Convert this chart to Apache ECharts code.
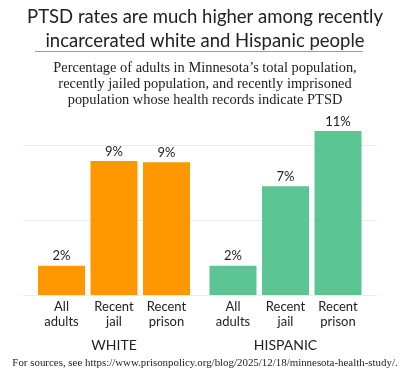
<!DOCTYPE html>
<html>
<head>
<meta charset="utf-8">
<script src="https://cdn.jsdelivr.net/npm/echarts@6/dist/echarts.min.js"></script>
<style>html,body{margin:0;padding:0;background:#fff}#c{width:400px;height:380px}</style>
</head>
<body>
<div id="c"></div>
<script>
const categories = ['All\nadults', 'Recent\njail', 'Recent\nprison'];
const whiteValues = [1.95, 8.93, 8.85];
const hispanicValues = [1.95, 7.25, 10.93];
const groupNames = ['WHITE', 'HISPANIC'];
const gridTicks = [0, 5, 10];

const sans = 'Lato, "Noto Sans", sans-serif';
const serif = '"Liberation Serif", "DejaVu Serif", serif';

const chart = echarts.init(document.getElementById('c'), null, {renderer: 'canvas'});

function barAxis(idx, name) {
  return {
    type: 'category', gridIndex: idx, data: categories,
    axisLine: {show: false}, axisTick: {show: false},
    axisLabel: {fontFamily: sans, fontSize: 13, color: '#222', lineHeight: 15, margin: 4, interval: 0},
    name: name, nameLocation: 'middle', nameGap: 43,
    nameTextStyle: {fontFamily: sans, fontSize: 14, color: '#222'}
  };
}
function barY(idx) {
  return {type: 'value', gridIndex: idx, min: 0, max: 12.5, show: false, splitLine: {show: false}};
}
function barSeries(idx, data, color) {
  return {
    type: 'bar', xAxisIndex: idx, yAxisIndex: idx, data: data, barWidth: 47,
    itemStyle: {color: color},
    label: {show: true, position: 'top', distance: 3, fontFamily: sans, fontSize: 13, color: '#222',
      formatter: p => Math.round(p.value) + '%'}
  };
}

chart.setOption({
  animation: false,
  title: [
    {text: 'PTSD rates are much higher among recently\nincarcerated white and Hispanic people', left: 200, top: 0, textAlign: 'center',
      textStyle: {fontFamily: sans, fontSize: 18.5, fontWeight: 'normal', color: '#222', lineHeight: 24}},
    {text: 'Percentage of adults in Minnesota\u2019s total population,\nrecently jailed population, and recently imprisoned\npopulation whose health records indicate PTSD',
      left: 200, top: 55, textAlign: 'center',
      textStyle: {fontFamily: serif, fontSize: 14.4, fontWeight: 'normal', color: '#222', lineHeight: 16}},
    {text: 'For sources, see https://www.prisonpolicy.org/blog/2025/12/18/minnesota-health-study/.',
      left: 200, top: 353, textAlign: 'center',
      textStyle: {fontFamily: serif, fontSize: 10.9, fontWeight: 'normal', color: '#222'}}
  ],
  graphic: [{type: 'line', shape: {x1: 35, y1: 51.5, x2: 363, y2: 51.5}, style: {stroke: '#999', lineWidth: 1}}],
  grid: [
    {left: 23, right: 23, top: 145, bottom: 85},
    {left: 35.25, width: 157.5, top: 107.5, bottom: 85},
    {left: 206.75, width: 157.5, top: 107.5, bottom: 85}
  ],
  xAxis: [
    {type: 'category', gridIndex: 0, data: [''], show: false},
    barAxis(1, groupNames[0]),
    barAxis(2, groupNames[1])
  ],
  yAxis: [
    {type: 'value', gridIndex: 0, min: gridTicks[0], max: gridTicks[gridTicks.length - 1], interval: 5,
      axisLabel: {show: false}, axisLine: {show: false}, axisTick: {show: false},
      splitLine: {lineStyle: {color: '#ebebeb', width: 1}}},
    barY(1), barY(2)
  ],
  series: [
    barSeries(1, whiteValues, '#ff9800'),
    barSeries(2, hispanicValues, '#5cc594')
  ]
});
</script>
</body>
</html>
